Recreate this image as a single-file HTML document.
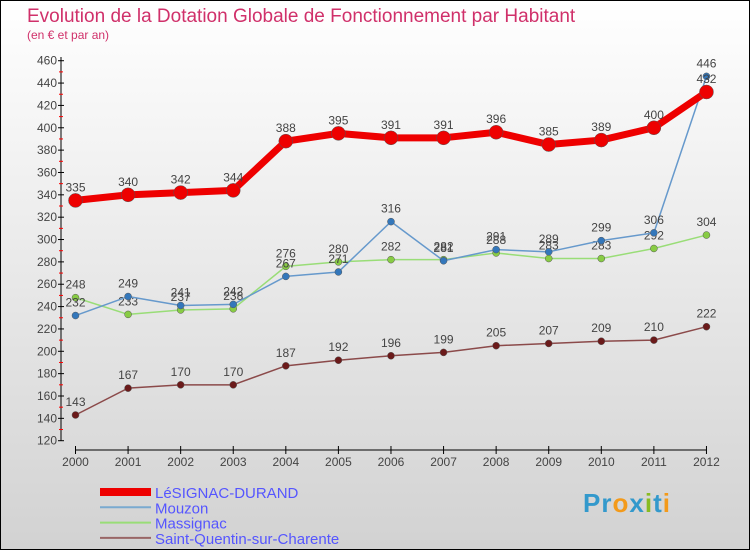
<!DOCTYPE html>
<html><head><meta charset="utf-8"><style>
body{margin:0;width:750px;height:550px;overflow:hidden;font-family:"Liberation Sans",sans-serif}
</style></head><body>
<svg width="750" height="550" xmlns="http://www.w3.org/2000/svg">
<defs><linearGradient id="bg" x1="0" y1="0" x2="0" y2="1"><stop offset="0" stop-color="#ffffff"/><stop offset="1" stop-color="#d2d2d2"/></linearGradient></defs>
<rect x="0.5" y="0.5" width="749" height="549" fill="url(#bg)" stroke="#000"/>
<text x="27" y="22" font-size="19" fill="#d0306a">Evolution de la Dotation Globale de Fonctionnement par Habitant</text>
<text x="27" y="39" font-size="12" fill="#d0306a">(en € et par an)</text>
<g id="axes"></g><g id="series"></g><g id="legend"></g>
</svg>
<script>
const years=[2000,2001,2002,2003,2004,2005,2006,2007,2008,2009,2010,2011,2012];
const lesignac=[335,340,342,344,388,395,391,391,396,385,389,400,432];
const mouzon=[232,249,241,242,267,271,316,281,291,289,299,306,446];
const massignac=[248,233,237,238,276,280,282,282,288,283,283,292,304];
const stquentin=[143,167,170,170,187,192,196,199,205,207,209,210,222];
const yTicks=[120,140,160,180,200,220,240,260,280,300,320,340,360,380,400,420,440,460];
const NS="http://www.w3.org/2000/svg";
const X=i=>75.5+i*52.58;
const Y=v=>440.7-(v-120)*1.1176;
function mk(t,a,p){const e=document.createElementNS(NS,t);for(const k in a)e.setAttribute(k,a[k]);p.appendChild(e);return e;}
const ax=document.getElementById('axes');
let l=mk('line',{x1:61,y1:57,x2:61,y2:441,stroke:'#000'},ax);


yTicks.forEach(v=>{
 mk('line',{x1:58,x2:64,y1:Y(v),y2:Y(v),stroke:'#000'},ax);
 if(v<460)mk('line',{x1:59,x2:63,y1:Y(v+10),y2:Y(v+10),stroke:'#f00'},ax);
 const t=mk('text',{x:57,y:Y(v)+4,'font-size':12,fill:'#444','text-anchor':'end'},ax);t.textContent=v;
 
 
});
l=mk('line',{x1:75,y1:450,x2:707,y2:450,stroke:'#000'},ax);


years.forEach((y,i)=>{
 mk('line',{x1:X(i),x2:X(i),y1:446,y2:454,stroke:'#000'},ax);
 const t=mk('text',{x:X(i),y:466,'font-size':12,fill:'#444','text-anchor':'middle'},ax);t.textContent=y;
 
 
});
const sg=document.getElementById('series');
function series(d,name,col,w,r,fill){
 const g=mk('g',{},sg);
 
 
 mk('polyline',{points:d.map((v,i)=>X(i)+','+Y(v)).join(' '),fill:'none',stroke:col,'stroke-width':w,'stroke-linejoin':'round'},g);
 d.forEach((v,i)=>{
  const c=mk('circle',{cx:X(i),cy:Y(v),r:r,fill:fill,stroke:'#555','stroke-width':0.5},g);
  
  
  const t=mk('text',{x:X(i),y:Y(v)-9,'font-size':12,fill:'#444','text-anchor':'middle'},g);t.textContent=v;
  
  
 });
}
series(stquentin,'saint-quentin-series','#8b4a4a',1.5,3.5,'#6b1a1a');
series(massignac,'massignac-series','#99dd77',1.5,3.5,'#88cc44');
series(mouzon,'mouzon-series','#6699cc',1.5,3.5,'#3377bb');
series(lesignac,'lesignac-series','#ee0000',7,7,'#ee0000');
const lg=document.getElementById('legend');
const items=[['LéSIGNAC-DURAND','#ee0000',8],['Mouzon','#7aaad0',2],['Massignac','#99dd77',2],['Saint-Quentin-sur-Charente','#996666',2]];
items.forEach((it,i)=>{
 const y=492+i*15.3;
 const g=mk('g',{},lg);
 
 
 mk('line',{x1:100,x2:151,y1:y,y2:y,stroke:it[1],'stroke-width':it[2]},g);
 const t=mk('text',{x:155,y:y+6,'font-size':15,fill:'#5555ff'},g);t.textContent=it[0];
});
</script>
<div style="position:absolute;left:583px;top:488px;font:bold 26px 'Liberation Sans',sans-serif;letter-spacing:1px"><span style="color:#3399cc">Pr</span><span style="color:#f39a1a">o</span><span style="color:#3399cc">x</span><span style="color:#88bb22">i</span><span style="color:#3399cc">t</span><span style="color:#f39a1a">i</span></div>
</body></html>
